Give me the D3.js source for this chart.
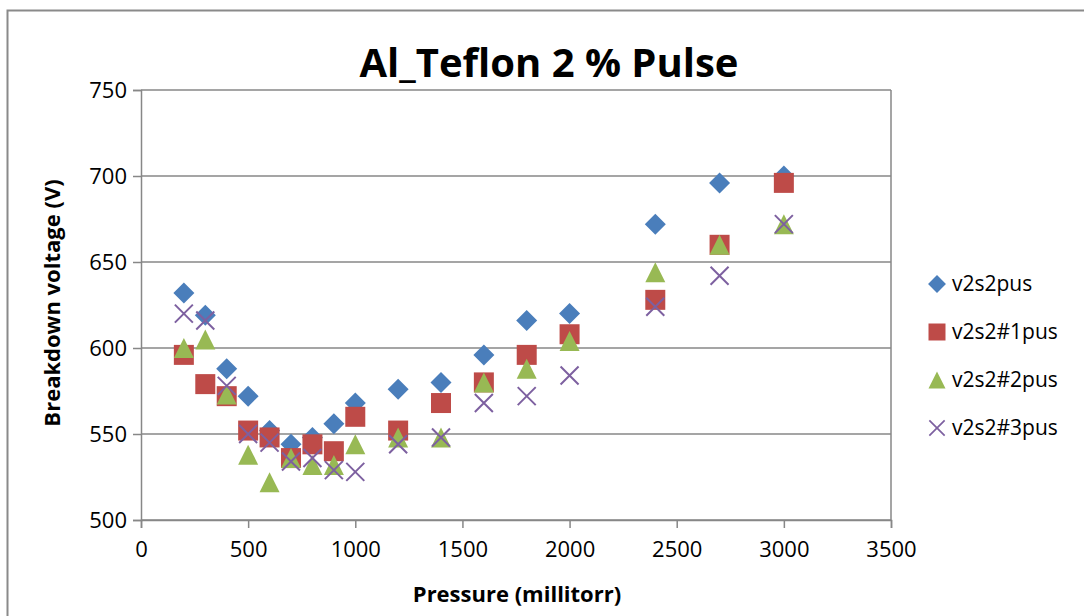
<!DOCTYPE html>
<html>
<head>
<meta charset="utf-8">
<script src="https://cdn.jsdelivr.net/npm/d3@7"></script>
<style>
  html, body { margin: 0; padding: 0; background: #fff; }
  svg { display: block; font-family: "Open Sans", "Lato", sans-serif; }
</style>
</head>
<body>
<svg id="chart" width="1084" height="616"></svg>
<script>
// Pressure readings (millitorr) shared by all runs
const pressure = [200, 300, 400, 500, 600, 700, 800, 900, 1000, 1200, 1400, 1600, 1800, 2000, 2400, 2700, 3000];

// Breakdown voltage (V) for each run
const v2s2pus   = [632, 619, 588, 572, 552, 544, 548, 556, 568, 576, 580, 596, 616, 620, 672, 696, 700];
const v2s2_1pus = [596, 579, 572, 552, 548, 536, 544, 540, 560, 552, 568, 580, 596, 608, 628, 660, 696];
const v2s2_2pus = [600, 605, 573, 538, 522, 536, 532, 532, 544, 548, 548, 580, 588, 604, 644, 660, 672];
const v2s2_3pus = [620, 616, 578, 550, 545, 534, 536, 529, 528, 544, 548, 568, 572, 584, 624, 642, 672];

const seriesNames = ["v2s2pus", "v2s2#1pus", "v2s2#2pus", "v2s2#3pus"];
const xTicks = [0, 500, 1000, 1500, 2000, 2500, 3000, 3500];
const yTicks = [500, 550, 600, 650, 700, 750];

const series = [
  { name: seriesNames[0], values: v2s2pus,   color: "#4A7EBB", shape: "diamond" },
  { name: seriesNames[1], values: v2s2_1pus, color: "#BE4B48", shape: "square" },
  { name: seriesNames[2], values: v2s2_2pus, color: "#98B954", shape: "triangle" },
  { name: seriesNames[3], values: v2s2_3pus, color: "#7D60A0", shape: "cross" }
];

const svg = d3.select("#chart");
const plot = { left: 141, right: 891, top: 90, bottom: 520 };

const x = d3.scaleLinear().domain([0, 3500]).range([plot.left, plot.right]);
const y = d3.scaleLinear().domain([500, 750]).range([plot.bottom, plot.top]);

// Chart frame
svg.append("rect")
  .attr("x", 7.5).attr("y", 10.5)
  .attr("width", 1100).attr("height", 700)
  .attr("fill", "#fff").attr("stroke", "#8a8a8a").attr("stroke-width", 2);

// Horizontal gridlines
svg.append("g")
  .selectAll("line")
  .data(yTicks)
  .join("line")
  .attr("x1", plot.left).attr("x2", plot.right)
  .attr("y1", d => y(d)).attr("y2", d => y(d))
  .attr("stroke", "#878787").attr("stroke-width", 1.5);

// Right border of the plot area
svg.append("line")
  .attr("x1", plot.right).attr("x2", plot.right)
  .attr("y1", plot.top).attr("y2", plot.bottom)
  .attr("stroke", "#878787").attr("stroke-width", 1.5);

// Axes
const xAxis = d3.axisBottom(x).tickValues(xTicks).tickSize(8).tickPadding(13).tickFormat(d3.format("d"));
const yAxis = d3.axisLeft(y).tickValues(yTicks).tickSize(8).tickPadding(6).tickFormat(d3.format("d"));

const gx = svg.append("g").attr("transform", `translate(0,${plot.bottom})`).call(xAxis);
const gy = svg.append("g").attr("transform", `translate(${plot.left},0)`).call(yAxis);

[gx, gy].forEach(g => {
  g.select(".domain").attr("stroke", "#878787").attr("stroke-width", 1.5);
  g.selectAll(".tick line").attr("stroke", "#878787").attr("stroke-width", 1.5);
  g.selectAll(".tick text")
    .attr("fill", "#000")
    .style("font-family", "'Open Sans', sans-serif")
    .style("font-size", "22px");
});

// Marker shapes
function markerPath(shape) {
  const p = d3.path();
  if (shape === "diamond") {
    const r = 10.5;
    p.moveTo(0, -r); p.lineTo(r, 0); p.lineTo(0, r); p.lineTo(-r, 0); p.closePath();
  } else if (shape === "square") {
    const r = 10;
    p.rect(-r, -r, 2 * r, 2 * r);
  } else if (shape === "triangle") {
    const r = 10;
    p.moveTo(0, -r); p.lineTo(r, r); p.lineTo(-r, r); p.closePath();
  } else {
    const r = 9;
    p.moveTo(-r, -r); p.lineTo(r, r); p.moveTo(r, -r); p.lineTo(-r, r);
  }
  return p.toString();
}

function drawMarker(sel, s) {
  sel.attr("d", markerPath(s.shape));
  if (s.shape === "cross") {
    sel.attr("fill", "none").attr("stroke", s.color).attr("stroke-width", 2);
  } else {
    sel.attr("fill", s.color).attr("stroke", "none");
  }
}

// Data points
series.forEach(s => {
  svg.append("g")
    .selectAll("path")
    .data(pressure.map((p, i) => ({ p, v: s.values[i] })))
    .join("path")
    .attr("transform", d => `translate(${x(d.p)},${y(d.v)})`)
    .call(drawMarker, s);
});

// Title
svg.append("text")
  .attr("x", 549).attr("y", 77)
  .attr("text-anchor", "middle")
  .style("font-size", "40px").style("font-weight", "bold")
  .text("Al_Teflon 2 % Pulse");

// Axis titles
svg.append("text")
  .attr("x", 517).attr("y", 602)
  .attr("text-anchor", "middle")
  .style("font-size", "22px").style("font-weight", "bold")
  .text("Pressure (millitorr)");

svg.append("text")
  .attr("transform", "translate(60,303) rotate(-90)")
  .attr("text-anchor", "middle")
  .style("font-size", "22px").style("font-weight", "bold")
  .text("Breakdown voltage (V)");

// Legend
const legend = svg.append("g")
  .selectAll("g")
  .data(series)
  .join("g")
  .attr("transform", (d, i) => `translate(937,${284 + i * 48})`);

legend.append("path").each(function (d) { drawMarker(d3.select(this), d); })
  .attr("transform", "scale(0.85)");

legend.append("text")
  .attr("x", 15).attr("y", 0).attr("dy", "0.35em")
  .style("font-size", "21px")
  .text(d => d.name);
</script>
</body>
</html>
